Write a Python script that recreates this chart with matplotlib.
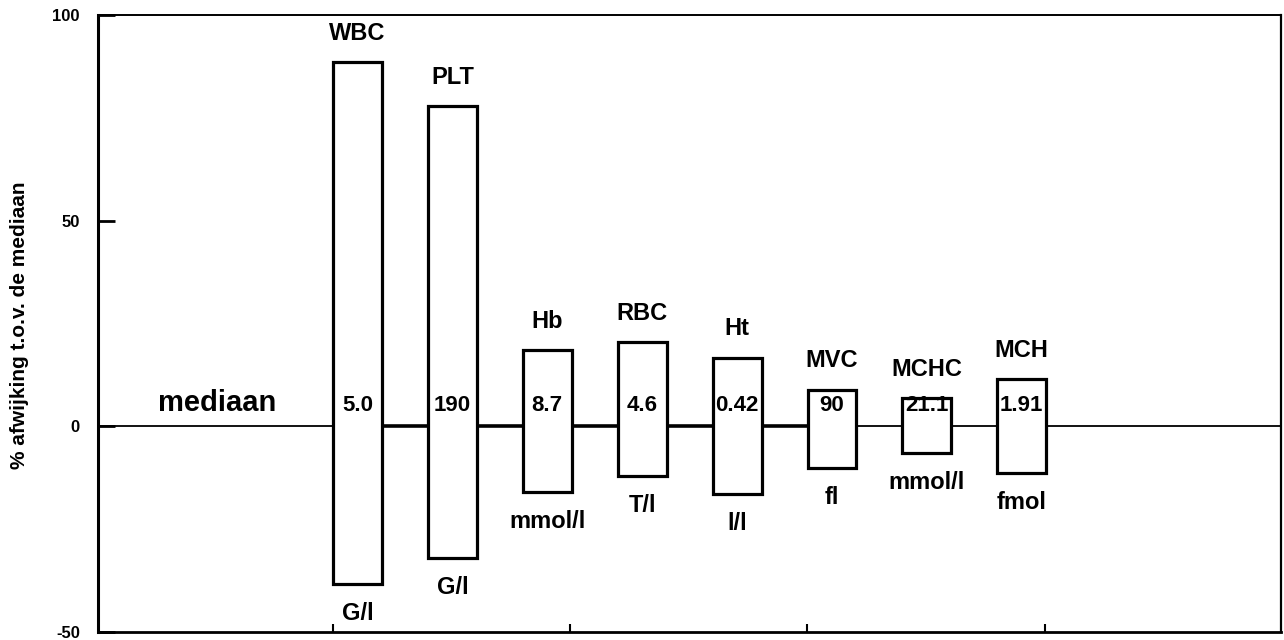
import numpy as np
import matplotlib
matplotlib.use("Agg")
import matplotlib.pyplot as plt

plt.rcParams["font.family"] = ["Liberation Sans", "DejaVu Sans"]
plt.rcParams["font.weight"] = "bold"

# ── data: spread of each parameter as % deviation from its median ──────────
params  = ["WBC", "PLT", "Hb", "RBC", "Ht", "MVC", "MCHC", "MCH"]
medians = ["5.0", "190", "8.7", "4.6", "0.42", "90", "21.1", "1.91"]
units   = ["G/l", "G/l", "mmol/l", "T/l", "l/l", "fl", "mmol/l", "fmol"]
upper   = [88.6, 77.9, 18.6, 20.5, 16.7, 8.9, 6.9, 11.5]
lower   = [-38.3, -32.0, -15.9, -12.0, -16.4, -10.1, -6.4, -11.3]

yticks  = [-50, 0, 50, 100]
ylabels = ["-50", "0", "50", "100"]

# ── figure ──────────────────────────────────────────────────────────────────
fig = plt.figure(figsize=(12.84, 6.4), dpi=100)
ax = fig.add_axes([98 / 1284, 8 / 640, 1183 / 1284, 617 / 640])

x = np.arange(len(params))
w = 0.516
lo = np.array(lower)
hi = np.array(upper)

ax.bar(x, hi - lo, bottom=lo, width=w, facecolor="white",
       edgecolor="black", linewidth=2.3, zorder=3)

# zero (median) line: thin across, heavier under the first bars
ax.axhline(0, color="black", lw=1.3, zorder=2)
ax.plot([x[0] - w / 2, x[5] - w / 2], [0, 0], color="black", lw=2.6,
        solid_capstyle="butt", zorder=2)

for xi, name, med, unit, top, bot in zip(x, params, medians, units, upper, lower):
    ax.text(xi, top + 7.0, name, ha="center", va="center",
            fontsize=17, fontweight="bold")
    ax.text(xi, 5.0, med, ha="center", va="center",
            fontsize=16, fontweight="bold", zorder=4)
    ax.text(xi, bot - 7.3, unit, ha="center", va="center",
            fontsize=17, fontweight="bold")

ax.text(-1.48, 5.6, "mediaan", ha="center", va="center",
        fontsize=21, fontweight="bold")

ax.set_xlim(-2.734, 9.731)
ax.set_ylim(-50, 100)

ax.set_yticks(yticks)
ax.set_yticklabels(ylabels, fontsize=12, fontweight="bold")
ax.tick_params(axis="y", direction="in", length=12, width=2, pad=13)

ax.set_xticks(np.arange(-0.26, 7.5, 2.5))
ax.set_xticklabels([])
ax.tick_params(axis="x", direction="in", length=6, width=1.5)

ax.spines["left"].set_linewidth(2.2)
ax.spines["bottom"].set_linewidth(2.0)
ax.spines["top"].set_linewidth(1.4)
ax.spines["right"].set_linewidth(1.6)

fig.text(20 / 1284, 1 - 325 / 640, "% afwijking t.o.v. de mediaan",
         rotation=90, ha="center", va="center", fontsize=15, fontweight="bold")

fig.savefig("out.png", dpi=100)
